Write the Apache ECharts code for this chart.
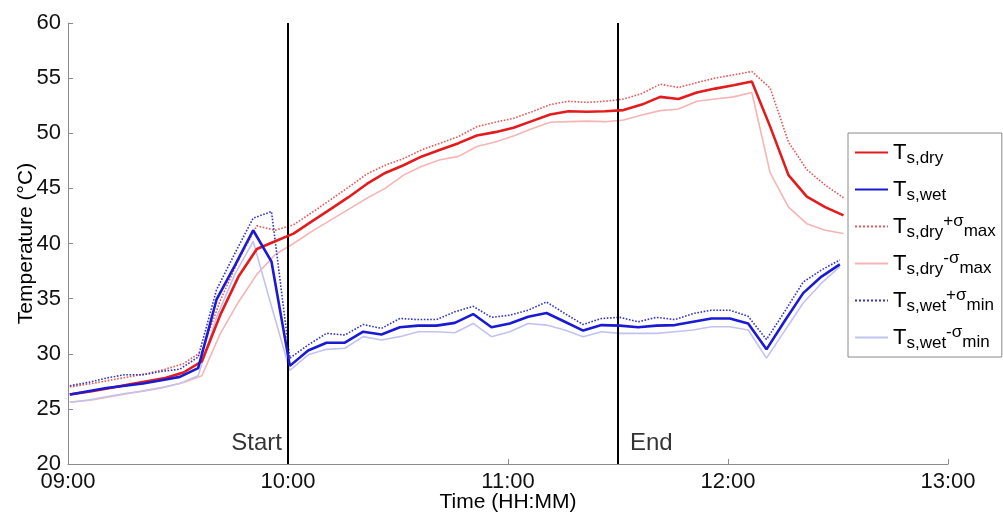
<!DOCTYPE html>
<html>
<head>
<meta charset="utf-8">
<script src="https://cdn.jsdelivr.net/npm/echarts@6/dist/echarts.min.js"></script>
<style>
html,body{margin:0;padding:0;background:#fff;}
#chart{width:1003px;height:514px;}
</style>
</head>
<body>
<div id="chart"></div>
<script>
// ---- data (minutes after 09:00) ----
var xTickLabels = ['09:00', '10:00', '11:00', '12:00', '13:00'];
var redTimes = [0.5,6.5,11.5,16.5,21.5,26.5,31.5,36.5,41.5,46.5,51.5,56.5,61.5,66.5,71.5,76.5,81.5,86.5,91.5,96.5,101.5,106.5,111.5,116.5,121.5,126.5,131.5,136.5,141.5,146.5,151.5,156.5,161.5,166.5,171.5,176.5,181.5,186.5,191.5,196.5,201.5,206.5,211.5];
var blueTimes = [0.5,5.5,10.5,15.5,20.5,25.5,30.5,35.5,40.5,45.5,50.5,55.5,60.5,65.5,70.5,75.5,80.5,85.5,90.5,95.5,100.5,105.5,110.5,115.5,120.5,125.5,130.5,135.5,140.5,145.5,150.5,155.5,160.5,165.5,170.5,175.5,180.5,185.5,190.5,195.5,200.5,205.5,210.5];

var drySolid = [26.3,26.6,26.9,27.2,27.5,27.8,28.3,29.3,33.5,37.0,39.5,40.2,40.9,42.0,43.1,44.2,45.4,46.4,47.1,47.9,48.5,49.1,49.8,50.1,50.5,51.1,51.7,52.0,51.95,52.0,52.1,52.6,53.3,53.1,53.7,54.05,54.35,54.7,50.6,46.2,44.25,43.3,42.55];
var dryPlus = [27.0,27.3,27.6,27.9,28.2,28.6,29.1,30.2,34.8,38.5,41.6,41.2,41.7,42.8,43.95,45.1,46.3,47.1,47.7,48.5,49.1,49.7,50.6,51.0,51.35,51.95,52.6,52.9,52.8,52.9,53.1,53.6,54.45,54.15,54.6,55.0,55.3,55.6,54.1,49.2,46.7,45.3,44.15];
var dryMinus = [25.6,25.8,26.1,26.4,26.7,27.0,27.4,28.0,31.8,34.7,37.2,39.0,40.0,41.1,42.1,43.1,44.1,45.0,46.2,47.0,47.6,47.9,48.8,49.2,49.75,50.4,51.0,51.05,51.1,51.05,51.2,51.65,52.05,52.2,52.9,53.1,53.3,53.7,46.4,43.3,41.8,41.2,40.9];
var wetSolid = [26.3,26.6,26.9,27.1,27.3,27.6,27.9,28.7,34.9,38.0,41.2,38.35,28.9,30.3,31.0,31.0,32.0,31.75,32.4,32.55,32.55,32.8,33.6,32.4,32.75,33.35,33.7,32.9,32.1,32.6,32.55,32.4,32.55,32.6,32.9,33.2,33.2,32.75,30.4,33.0,35.5,37.0,38.1];
var wetPlus = [27.1,27.4,27.8,28.1,28.1,28.4,28.6,29.7,35.8,39.1,42.3,42.9,29.6,30.8,31.85,31.7,32.65,32.3,33.2,33.1,33.1,33.8,34.3,33.3,33.5,33.95,34.7,33.65,32.65,33.2,33.3,32.9,33.3,33.1,33.65,33.95,33.95,33.4,31.3,33.85,36.5,37.6,38.5];
var wetMinus = [25.6,25.8,26.1,26.4,26.6,26.9,27.3,28.0,33.3,37.2,40.2,34.3,28.5,29.9,30.4,30.5,31.55,31.25,31.55,32.0,32.0,31.9,32.75,31.55,32.0,32.75,32.6,32.15,31.55,32.0,31.85,31.85,31.85,32.0,32.15,32.45,32.45,32.15,29.6,32.1,34.6,36.4,37.9];

var markTimes = [60, 150];
var markNames = ['Start', 'End'];
var markLabelY = 21.9;

var seriesNames = ['Ts,dry', 'Ts,wet', 'Ts,dry+σmax', 'Ts,dry-σmax', 'Ts,wet+σmin', 'Ts,wet-σmin'];
var legendRich = {
  'Ts,dry': '{T|T}{sub|s,dry}',
  'Ts,wet': '{T|T}{sub|s,wet}',
  'Ts,dry+σmax': '{T|T}{sub|s,dry}{sup|+σ}{sub2|max}',
  'Ts,dry-σmax': '{T|T}{sub|s,dry}{sup|-σ}{sub2|max}',
  'Ts,wet+σmin': '{T|T}{sub|s,wet}{sup|+σ}{sub2|min}',
  'Ts,wet-σmin': '{T|T}{sub|s,wet}{sup|-σ}{sub2|min}'
};

function pairs(times, vals) {
  var out = [];
  for (var i = 0; i < vals.length; i++) out.push([times[i], vals[i]]);
  return out;
}

var FONT = "'Liberation Sans', Arial, sans-serif";

function lineSeries(name, times, vals, color, width, type, z) {
  return {
    name: name, type: 'line', data: pairs(times, vals),
    symbol: 'none', showSymbol: false, z: z, legendIcon: 'none',
    lineStyle: { color: color, width: width, type: type },
    itemStyle: { color: color }
  };
}

var markData = [];
for (var i = 0; i < markTimes.length; i++) {
  markData.push({
    value: [markTimes[i], markLabelY],
    label: {
      show: true, formatter: markNames[i],
      position: i === 0 ? 'left' : 'right', distance: i === 0 ? 6 : 12,
      color: '#000', fontSize: 24, fontFamily: FONT
    }
  });
}

var chart = echarts.init(document.getElementById('chart'), null, { renderer: 'canvas' });
chart.setOption({
  animation: false,
  backgroundColor: '#fff',
  grid: { left: 68, right: 55, top: 23, bottom: 50, containLabel: false, outerBoundsMode: 'none' },
  xAxis: {
    type: 'value', min: 0, max: 240, interval: 60,
    name: 'Time (HH:MM)', nameLocation: 'middle', nameGap: 28, nameMoveOverlap: false,
    nameTextStyle: { color: '#000', fontSize: 21, fontFamily: FONT },
    axisLine: { show: true, lineStyle: { color: '#8a8a8a', width: 1 } },
    axisTick: { show: true, inside: true, length: 5, lineStyle: { color: '#8a8a8a' } },
    axisLabel: {
      color: '#111', fontSize: 22, fontFamily: FONT, margin: 7,
      formatter: function (v) { return xTickLabels[Math.round(v / 60)]; }
    },
    splitLine: { show: false }
  },
  yAxis: {
    type: 'value', min: 20, max: 60, interval: 5,
    name: 'Temperature (°C)', nameLocation: 'middle', nameGap: 31, nameMoveOverlap: false,
    nameTextStyle: { color: '#000', fontSize: 21, fontFamily: FONT },
    axisLine: { show: true, lineStyle: { color: '#8a8a8a', width: 1 } },
    axisTick: { show: true, inside: true, length: 5, lineStyle: { color: '#8a8a8a' } },
    axisLabel: { color: '#111', fontSize: 22, fontFamily: FONT, margin: 7 },
    splitLine: { show: false }
  },
  legend: {
    data: seriesNames,
    orient: 'vertical', left: 848, top: 133,
    padding: [5, 6, 5, 6], itemGap: 8, itemWidth: 33, itemHeight: 14,
    backgroundColor: '#fff', borderColor: '#8a8a8a', borderWidth: 1,
    selectedMode: false,
    itemStyle: { opacity: 0 },
    formatter: function (n) { return legendRich[n]; },
    textStyle: {
      color: '#000', fontFamily: FONT,
      rich: {
        T: { fontSize: 22, fontFamily: FONT, color: '#000', lineHeight: 22 },
        sub: { fontSize: 17, fontFamily: FONT, color: '#000', lineHeight: 17, padding: [12, 0, 0, 0] },
        sub2: { fontSize: 17, fontFamily: FONT, color: '#000', lineHeight: 17, padding: [10, 0, 0, 0] },
        sup: { fontSize: 17, fontFamily: FONT, color: '#000', lineHeight: 17, padding: [0, 0, 10, 0] }
      }
    }
  },
  series: [
    lineSeries(seriesNames[0], redTimes, drySolid, '#e31b1c', 2.6, 'solid', 6),
    lineSeries(seriesNames[1], blueTimes, wetSolid, '#1a1ad4', 2.6, 'solid', 6),
    lineSeries(seriesNames[2], redTimes, dryPlus, '#e8585a', 1.6, 'dotted', 4),
    lineSeries(seriesNames[3], redTimes, dryMinus, '#f6b4b4', 1.6, 'solid', 3),
    lineSeries(seriesNames[4], blueTimes, wetPlus, '#3434cc', 1.6, 'dotted', 4),
    lineSeries(seriesNames[5], blueTimes, wetMinus, '#c2c2f0', 1.6, 'solid', 3),
    {
      name: 'marks', type: 'scatter', symbolSize: 0, z: 10,
      data: markData, silent: true,
      markLine: {
        silent: true, symbol: ['none', 'none'],
        label: { show: false },
        lineStyle: { color: '#000', width: 2, type: 'solid' },
        data: markTimes.map(function (t) { return { xAxis: t }; })
      }
    }
  ]
});
</script>
</body>
</html>
